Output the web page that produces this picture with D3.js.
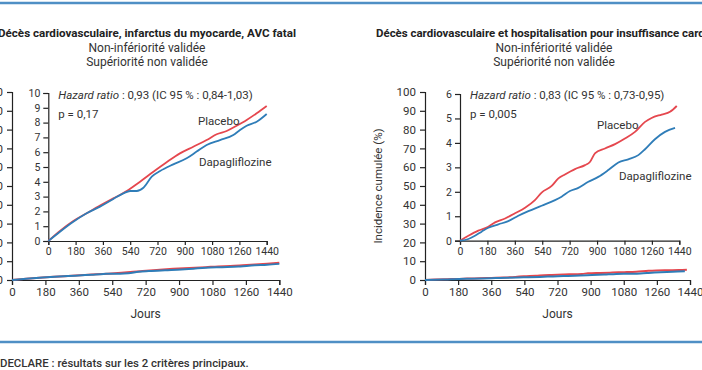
<!DOCTYPE html>
<html>
<head>
<meta charset="utf-8">
<title>DECLARE</title>
<script src="https://d3js.org/d3.v7.min.js"></script>
<style>
  body { margin: 0; background: #fff; }
  svg { display: block; font-family: Roboto, "DejaVu Sans", sans-serif; }
  .tick text { fill: #333; }
  .domain, .tick line { stroke: #222; stroke-width: 1.2; }
</style>
</head>
<body>
<div id="chart"></div>
<script>
// x ticks (days) shared by every panel
var dayTicks = [0, 180, 360, 540, 720, 900, 1080, 1260, 1440];
var outerTicks = [0, 10, 20, 30, 40, 50, 60, 70, 80, 90, 100];

// left panel: CV death, MI, ischemic stroke (%)
var mace = {
  placeboDays: [0, 77, 165, 253, 341, 429, 517, 605, 693, 780, 868, 956, 1044, 1110, 1176, 1242, 1308, 1374, 1440],
  placebo:     [0, 0.68, 1.35, 1.87, 2.39, 2.88, 3.38, 4.01, 4.68, 5.32, 5.92, 6.37, 6.82, 7.21, 7.43, 7.79, 8.18, 8.63, 9.12],
  dapaDays:    [0, 77, 165, 253, 341, 429, 495, 539, 583, 627, 682, 737, 824, 912, 978, 1044, 1132, 1220, 1264, 1308, 1374, 1440],
  dapa:        [0, 0.63, 1.3, 1.87, 2.32, 2.84, 3.22, 3.38, 3.38, 3.6, 4.35, 4.73, 5.18, 5.59, 6.04, 6.49, 6.82, 7.16, 7.5, 7.79, 8.06, 8.58]
};

// right panel: CV death or hospitalisation for heart failure (%)
var hf = {
  placeboDays: [0, 55, 120, 186, 230, 296, 361, 427, 492, 536, 602, 646, 689, 755, 821, 853, 886, 952, 1018, 1083, 1149, 1215, 1258, 1324, 1379, 1423],
  placebo:     [0, 0.2, 0.41, 0.57, 0.75, 0.91, 1.12, 1.35, 1.66, 1.97, 2.24, 2.55, 2.71, 2.93, 3.09, 3.22, 3.57, 3.77, 3.95, 4.18, 4.45, 4.86, 5.02, 5.16, 5.27, 5.51],
  dapaDays:    [0, 55, 98, 142, 186, 252, 317, 383, 449, 536, 624, 667, 722, 777, 843, 908, 974, 1040, 1105, 1171, 1215, 1280, 1346, 1412],
  dapa:        [0, 0.07, 0.2, 0.37, 0.53, 0.67, 0.8, 1.02, 1.21, 1.43, 1.66, 1.8, 2.03, 2.16, 2.41, 2.61, 2.89, 3.2, 3.33, 3.5, 3.74, 4.15, 4.45, 4.61]
};

var red = "#e5474e", blue = "#2f7db8";
var fmt = d3.format("d");

var svg = d3.select("#chart").append("svg")
  .attr("width", 702).attr("height", 370);

// frame rules
svg.append("line").attr("x1", 0).attr("x2", 702).attr("y1", 3).attr("y2", 3)
  .attr("stroke", "#4f8fc5").attr("stroke-width", 2.5);
svg.append("line").attr("x1", 0).attr("x2", 702).attr("y1", 342).attr("y2", 342)
  .attr("stroke", "#4f8fc5").attr("stroke-width", 2.5);

svg.append("text").attr("x", 0).attr("y", 367)
  .attr("font-size", 11.4).attr("font-weight", 500).attr("fill", "#333")
  .text("DECLARE : résultats sur les 2 critères principaux.");

function curves(g, data, x, y, w) {
  var line = d3.line().curve(d3.curveMonotoneX)
    .x(function(d) { return x(d[0]); })
    .y(function(d) { return y(d[1]); });
  var p = d3.zip(data.placeboDays, data.placebo);
  var b = d3.zip(data.dapaDays, data.dapa);
  g.append("path").attr("d", line(p)).attr("fill", "none").attr("stroke", red).attr("stroke-width", w);
  g.append("path").attr("d", line(b)).attr("fill", "none").attr("stroke", blue).attr("stroke-width", w);
}

function panel(o) {
  var g = svg.append("g");

  // titles
  g.append("text").attr("x", o.titleX).attr("y", 37)
    .attr("text-anchor", o.titleAnchor).attr("font-size", 11).attr("font-weight", "bold")
    .attr("fill", "#222").attr("textLength", o.titleLen).attr("lengthAdjust", "spacingAndGlyphs")
    .text(o.title);
  g.append("text").attr("x", o.cx).attr("y", 51.5).attr("text-anchor", "middle")
    .attr("font-size", 12).attr("fill", "#333").text("Non-infériorité validée");
  g.append("text").attr("x", o.cx).attr("y", 65.5).attr("text-anchor", "middle")
    .attr("font-size", 12).attr("fill", "#333").text("Supériorité non validée");

  // outer chart, 0-100 %
  var X = d3.scaleLinear().domain([0, 1440]).range(o.outerX);
  var Y = d3.scaleLinear().domain([0, 100]).range([280, 92]);
  g.append("g").attr("transform", "translate(0,280)")
    .call(d3.axisBottom(X).tickValues(dayTicks).tickFormat(fmt).tickSize(5).tickPadding(3))
    .attr("font-size", 11.5).attr("font-family", null);
  g.append("g").attr("transform", "translate(" + o.outerX[0] + ",0)")
    .call(d3.axisLeft(Y).tickValues(outerTicks).tickFormat(fmt).tickSize(5).tickPadding(4))
    .attr("font-size", 11.5).attr("font-family", null);
  curves(g, o.data, X, Y, 2);

  g.append("text").attr("x", (o.outerX[0] + o.outerX[1]) / 2).attr("y", 318)
    .attr("text-anchor", "middle").attr("font-size", 12).attr("fill", "#333").text("Jours");

  // inner zoomed chart
  var x = d3.scaleLinear().domain([0, 1440]).range(o.innerX);
  var y = d3.scaleLinear().domain([0, o.innerMax]).range(o.innerY);
  g.append("g").attr("transform", "translate(0," + o.innerY[0] + ")")
    .call(d3.axisBottom(x).tickValues(dayTicks).tickFormat(fmt).tickSize(4).tickPadding(3))
    .attr("font-size", 10.5).attr("font-family", null);
  g.append("g").attr("transform", "translate(" + o.innerX[0] + ",0)")
    .call(d3.axisLeft(y).ticks(o.innerMax).tickFormat(fmt).tickSize(5).tickPadding(3))
    .attr("font-size", 10.5).attr("font-family", null);
  curves(g, o.data, x, y, 1.8);

  var hr = g.append("text").attr("x", o.innerX[0] + 10).attr("y", 99)
    .attr("font-size", 11.5).attr("fill", "#333");
  hr.append("tspan").attr("font-style", "italic").text("Hazard ratio");
  hr.append("tspan").text(o.hr);
  g.append("text").attr("x", o.innerX[0] + 10).attr("y", 117.5)
    .attr("font-size", 11.5).attr("fill", "#333").text(o.p);

  g.append("text").attr("x", o.placeboLab[0]).attr("y", o.placeboLab[1])
    .attr("font-size", 11.5).attr("fill", "#333").text("Placebo");
  g.append("text").attr("x", o.dapaLab[0]).attr("y", o.dapaLab[1])
    .attr("font-size", 11.5).attr("fill", "#333").text("Dapagliflozine");
  return g;
}

panel({
  title: "Décès cardiovasculaire, infarctus du myocarde, AVC fatal",
  titleX: 147, titleAnchor: "middle", titleLen: 298, cx: 147,
  outerX: [12, 279.3], innerX: [48.3, 266.7], innerY: [241, 93], innerMax: 10,
  hr: " : 0,93 (IC 95 % : 0,84-1,03)", p: "p = 0,17",
  placeboLab: [198, 124.5], dapaLab: [199, 165.5],
  data: mace
});

panel({
  title: "Décès cardiovasculaire et hospitalisation pour insuffisance cardiaque",
  titleX: 376, titleAnchor: "start", titleLen: 357, cx: 554,
  outerX: [425, 690], innerX: [460, 679.3], innerY: [240.7, 94], innerMax: 6,
  hr: " : 0,83 (IC 95 % : 0,73-0,95)", p: "p = 0,005",
  placeboLab: [597, 128.5], dapaLab: [619, 179.5],
  data: hf
});

svg.append("text")
  .attr("transform", "translate(382,186) rotate(-90)")
  .attr("text-anchor", "middle").attr("font-size", 11.5).attr("fill", "#333")
  .text("Incidence cumulée (%)");
</script>
</body>
</html>
